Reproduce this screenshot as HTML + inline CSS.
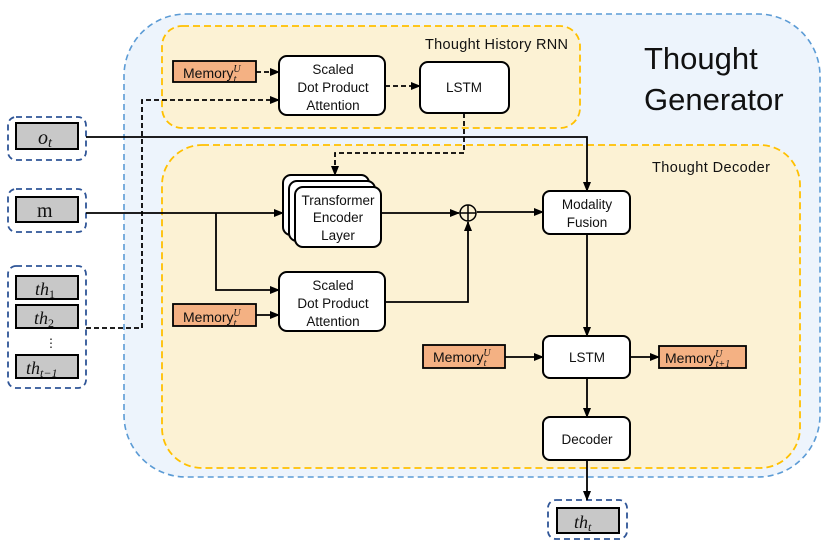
<!DOCTYPE html>
<html><head><meta charset="utf-8"><style>
html,body{margin:0;padding:0;background:#fff}
svg{display:block}
text{font-family:"Liberation Sans",sans-serif;fill:#111}
.m{font-family:"Liberation Serif",serif;font-style:italic}
.s{font-family:"Liberation Serif",serif}
</style></head><body>
<svg width="830" height="548" viewBox="0 0 830 548" xmlns="http://www.w3.org/2000/svg">
<defs>
<marker id="a" markerWidth="10" markerHeight="10" refX="9" refY="5" orient="auto" markerUnits="userSpaceOnUse"><path d="M0,1 L10,5 L0,9 z" fill="#000"/></marker>
</defs>
<rect x="124" y="14" width="696" height="463" rx="62" fill="#edf4fc" stroke="#5b9bd5" stroke-width="1.6" stroke-dasharray="6,4"/>
<rect x="162" y="26" width="418" height="102" rx="20" fill="#fcf2d4" stroke="#ffc000" stroke-width="1.8" stroke-dasharray="7,4"/>
<rect x="162" y="145" width="638" height="323" rx="40" fill="#fcf2d4" stroke="#ffc000" stroke-width="1.8" stroke-dasharray="7,4"/>
<text x="425" y="49" font-size="14.5" textLength="143">Thought History RNN</text>
<text x="652" y="172" font-size="14.5" textLength="118">Thought Decoder</text>
<text x="644" y="69" font-size="31">Thought</text>
<text x="644" y="110" font-size="31">Generator</text>

<g stroke="#2f5597" stroke-width="1.8" stroke-dasharray="6,4" fill="none">
<rect x="8" y="117" width="78" height="43" rx="8"/>
<rect x="8" y="189" width="78" height="43" rx="8"/>
<rect x="8" y="266" width="78" height="122" rx="8"/>
<rect x="548" y="500" width="79" height="39" rx="8"/>
</g>
<g fill="#c8c8c8" stroke="#000" stroke-width="2">
<rect x="16" y="123" width="62" height="26"/>
<rect x="16" y="197" width="62" height="25"/>
<rect x="16" y="276" width="62" height="23"/>
<rect x="16" y="305" width="62" height="23"/>
<rect x="16" y="355" width="62" height="23"/>
<rect x="557" y="508" width="62" height="25"/>
</g>
<text class="m" x="38" y="144" font-size="20">o<tspan font-size="14" dy="3">t</tspan></text>
<text class="s" x="37" y="217" font-size="20">m</text>
<text class="m" x="35" y="295" font-size="18">th<tspan font-size="12" dy="3" font-style="normal">1</tspan></text>
<text class="m" x="34" y="324" font-size="18">th<tspan font-size="12" dy="3" font-style="normal">2</tspan></text>
<text x="45" y="347" font-size="12">⋮</text>
<text class="m" x="26" y="374" font-size="18">th<tspan font-size="12" dy="3">t−1</tspan></text>
<text class="m" x="574" y="528" font-size="18">th<tspan font-size="12" dy="3">t</tspan></text>

<g fill="#f4b183" stroke="#000" stroke-width="1.8">
<rect x="173" y="61" width="83" height="21"/>
<rect x="173" y="304" width="83" height="22"/>
<rect x="423" y="345" width="82" height="23"/>
<rect x="659" y="346" width="87" height="22"/>
</g>
<g font-size="14">
<text x="183" y="78">Memory<tspan class="m" font-size="10" dy="4">t</tspan><tspan class="m" font-size="10" dx="-3" dy="-10">U</tspan></text>
<text x="183" y="322">Memory<tspan class="m" font-size="10" dy="4">t</tspan><tspan class="m" font-size="10" dx="-3" dy="-10">U</tspan></text>
<text x="433" y="362">Memory<tspan class="m" font-size="10" dy="4">t</tspan><tspan class="m" font-size="10" dx="-3" dy="-10">U</tspan></text>
<text x="665" y="363">Memory<tspan class="m" font-size="10" dy="4">t+1</tspan><tspan class="m" font-size="10" dx="-15" dy="-10">U</tspan></text>
</g>

<g fill="#fff" stroke="#000" stroke-width="2">
<rect x="279" y="56" width="106" height="59" rx="8"/>
<rect x="420" y="62" width="89" height="51" rx="8"/>
<rect x="283" y="175" width="86" height="60" rx="8"/>
<rect x="289" y="181" width="86" height="60" rx="8"/>
<rect x="295" y="187" width="86" height="60" rx="8"/>
<rect x="279" y="272" width="106" height="59" rx="8"/>
<rect x="543" y="191" width="87" height="43" rx="7"/>
<rect x="543" y="336" width="87" height="42" rx="7"/>
<rect x="543" y="417" width="87" height="43" rx="7"/>
</g>
<g font-size="13.5" text-anchor="middle">
<text x="333" y="74">Scaled</text><text x="333" y="92">Dot Product</text><text x="333" y="110">Attention</text>
<text x="464" y="92">LSTM</text>
<text x="338" y="205">Transformer</text><text x="338" y="222">Encoder</text><text x="338" y="240">Layer</text>
<text x="333" y="290">Scaled</text><text x="333" y="308">Dot Product</text><text x="333" y="326">Attention</text>
<text x="587" y="209">Modality</text><text x="587" y="227">Fusion</text>
<text x="587" y="362">LSTM</text>
<text x="587" y="444">Decoder</text>
</g>

<circle cx="468" cy="213" r="8" fill="none" stroke="#000" stroke-width="1.5"/>
<path d="M460,213H476M468,205V221" stroke="#000" stroke-width="1.5"/>

<g stroke="#000" stroke-width="1.8" fill="none" marker-end="url(#a)">
<path d="M86,137H587V191"/>
<path d="M86,213H283"/>
<path d="M216,213V290H279"/>
<path d="M256,315H279"/>
<path d="M381,213H459"/>
<path d="M385,302H468V222"/>
<path d="M477,212H543"/>
<path d="M587,234V336"/>
<path d="M505,357H543"/>
<path d="M630,357H659"/>
<path d="M587,378V417"/>
<path d="M587,460V500"/>
</g>
<g stroke="#000" stroke-width="1.8" fill="none" stroke-dasharray="5,3" marker-end="url(#a)">
<path d="M86,328H142V100H279"/>
<path d="M256,72H279"/>
<path d="M385,86H420"/>
<path d="M464,113V153H335V175"/>
</g>
</svg>
</body></html>
